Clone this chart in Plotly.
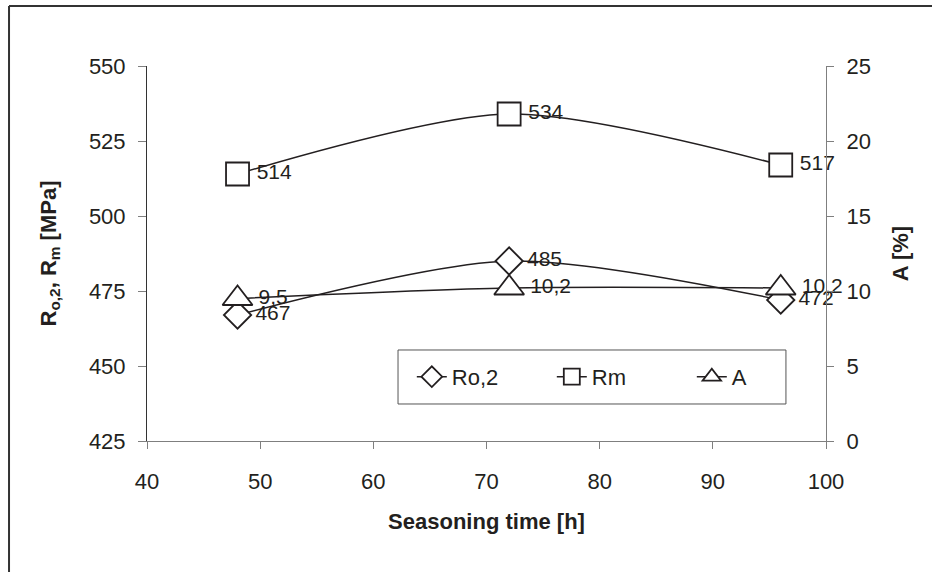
import plotly.graph_objects as go

time_h = [48, 72, 96]
ro2 = [467, 485, 472]
rm = [514, 534, 517]
a_pct = [9.5, 10.2, 10.2]
ro2_labels = ["467", "485", "472"]
rm_labels = ["514", "534", "517"]
a_labels = ["9,5", "10,2", "10,2"]

FONT = "Liberation Sans, Arial, sans-serif"
INK = "#231f20"
AXIS = "#7f7f7f"

fig = go.Figure()

def add_series(name, x, y, labels, symbol, size, yaxis):
    fig.add_trace(go.Scatter(
        x=x, y=y, name=name, yaxis=yaxis,
        mode="lines+markers",
        cliponaxis=False,
        line=dict(color=INK, width=1.5, shape="spline", smoothing=0.8),
        marker=dict(symbol=symbol, size=size, color="white",
                    line=dict(color=INK, width=1.8)),
    ))
    fig.add_trace(go.Scatter(
        x=x, y=y, yaxis=yaxis, showlegend=False, hoverinfo="skip",
        mode="markers+text",
        text=labels, textposition="middle right",
        textfont=dict(family=FONT, size=21, color=INK),
        cliponaxis=False,
        marker=dict(symbol=symbol, size=size + 6, opacity=0),
    ))

add_series("Ro,2", time_h, ro2, ro2_labels, "diamond", 21, "y")
add_series("Rm", time_h, rm, rm_labels, "square", 23, "y")
add_series("A", time_h, a_pct, a_labels, "triangle-up", 26, "y2")

tickfont = dict(family=FONT, size=22, color=INK)
titlefont = dict(family=FONT, size=22, color=INK, weight="bold")

fig.update_layout(
    width=932, height=572,
    margin=dict(l=147, r=106, t=66, b=131),
    paper_bgcolor="white", plot_bgcolor="white",
    showlegend=True,
    legend=dict(
        orientation="h", x=0.39, y=0.171, xanchor="left", yanchor="middle",
        borderwidth=0, bgcolor="rgba(0,0,0,0)",
        font=dict(family=FONT, size=22, color=INK),
        entrywidth=95,
    ),
    xaxis=dict(
        range=[40, 100], tickvals=[40, 50, 60, 70, 80, 90, 100],
        showgrid=False, zeroline=False, showline=True, linecolor=AXIS, linewidth=1,
        ticks="outside", ticklen=7, tickcolor=AXIS, tickfont=tickfont,
        ticklabelstandoff=14,
        title=dict(text="Seasoning time [h]", font=titlefont, standoff=20),
    ),
    yaxis=dict(
        range=[425, 550], tickvals=[425, 450, 475, 500, 525, 550],
        showgrid=False, zeroline=False, showline=True, linecolor="#333333", linewidth=1,
        ticks="outside", ticklen=8, tickcolor=AXIS, tickfont=tickfont,
        ticklabelstandoff=8,
        title=dict(text="R<sub>o,2</sub>, R<sub>m</sub> [MPa]", font=titlefont, standoff=26),
    ),
    yaxis2=dict(
        range=[0, 25], tickvals=[0, 5, 10, 15, 20, 25],
        overlaying="y", side="right", anchor="x",
        showgrid=False, zeroline=False, showline=True, linecolor=AXIS, linewidth=1,
        ticks="outside", ticklen=7, tickcolor=AXIS, tickfont=tickfont,
        ticklabelstandoff=8,
        title=dict(text="A [%]", font=titlefont, standoff=22),
    ),
    shapes=[
        dict(type="line", xref="paper", yref="paper", x0=-0.2032, x1=-0.2032,
             y0=-0.40, y1=1.16, line=dict(color="#333333", width=2)),
        dict(type="line", xref="paper", yref="paper", x0=-0.2032, x1=1.25,
             y0=1.16, y1=1.16, line=dict(color="#333333", width=2)),
        dict(type="rect", xref="paper", yref="paper", x0=0.3697, x1=0.941,
             y0=0.0987, y1=0.2427, line=dict(color="#555555", width=1),
             fillcolor="white", layer="above"),
    ],
)

fig.write_html("out.html", config={"displayModeBar": False},
               post_script="document.body.style.margin='0';")
